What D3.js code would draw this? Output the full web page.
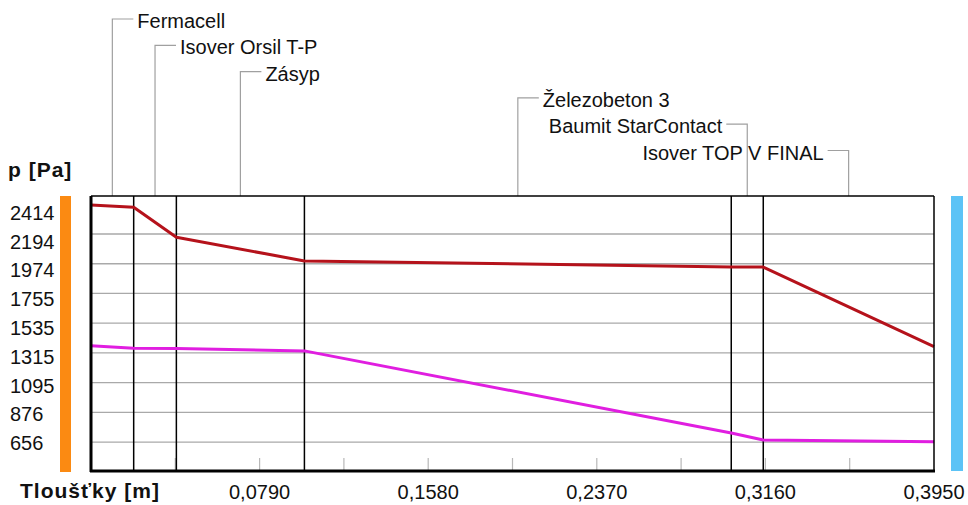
<!DOCTYPE html>
<html><head><meta charset="utf-8">
<script src="https://cdn.jsdelivr.net/npm/d3@7"></script>
<style>
body{margin:0;background:#fff}
svg{display:block}
text{font-family:"Liberation Sans",Arial,sans-serif;fill:#111}
</style>
</head><body>
<svg id="chart" width="968" height="505"></svg>
<script>
// ---- data ----
const layers = ["Fermacell","Isover Orsil T-P","Zásyp","Železobeton 3","Baumit StarContact","Isover TOP V FINAL"];
const thickness = [0.02, 0.02, 0.06, 0.20, 0.015, 0.08];
const pressureRed = [2409, 2392, 2170, 1995, 1951, 1950, 1361];      // at layer boundaries
const pressureMagenta = [1368, 1350, 1348, 1330, 723, 671, 658];   // at layer boundaries
const yTickLabels = [656, 876, 1095, 1315, 1535, 1755, 1974, 2194, 2414];
const xTickLabels = [0.079, 0.158, 0.237, 0.316, 0.395];
const xMinorStep = 0.0395;
const yAxisTitle = "p [Pa]";
const xAxisTitle = "Tloušťky [m]";

// ---- layout ----
const svg = d3.select("#chart");
const L = 91, R = 934, T = 196, B = 471;
const boundaries = [0, ...d3.cumsum(thickness)];
const total = boundaries[boundaries.length - 1];

const x = d3.scaleLinear().domain([0, 0.395]).range([L, R]);
const y = d3.scaleLinear().domain([442, 2475]).range([B, T]);
const yLab = d3.scaleLinear().domain([656, 2414]).range([443, 212.5]);
const row = d3.scalePoint().domain(layers).range([19, 150.5]);

// side bars
svg.append("rect").attr("x", 60).attr("y", T).attr("width", 11).attr("height", B - T + 1).attr("fill", "#fb8a12");
svg.append("rect").attr("x", 951).attr("y", T).attr("width", 12).attr("height", B - T).attr("fill", "#5cc3f6");

// gridlines (no line at the top label)
const gridVals = yTickLabels.filter(v => v < d3.max(yTickLabels));
svg.append("g").selectAll("line").data(gridVals).join("line")
  .attr("x1", L).attr("x2", R).attr("y1", d => y(d)).attr("y2", d => y(d))
  .attr("stroke", "#a9a9a9").attr("stroke-width", 1.3);

// minor ticks on bottom
const minor = d3.range(1, 10).map(i => i * xMinorStep);
svg.append("g").selectAll("line").data(minor).join("line")
  .attr("x1", d => x(d)).attr("x2", d => x(d)).attr("y1", B - 13).attr("y2", B)
  .attr("stroke", "#b8b8b8").attr("stroke-width", 1.2);

// layer boundaries
svg.append("g").selectAll("line").data(boundaries.slice(1, -1)).join("line")
  .attr("x1", d => x(d)).attr("x2", d => x(d)).attr("y1", T).attr("y2", B)
  .attr("stroke", "#000").attr("stroke-width", 1.5);

// connectors and labels
const lab = svg.append("g");
layers.forEach((name, i) => {
  const mx = x(boundaries[i] + thickness[i] / 2);
  const ry = row(name);
  const t = lab.append("text").attr("y", ry).attr("dy", "0.45em")
    .attr("font-size", 20).text(name);
  const w = t.node().getComputedTextLength();
  const right = mx + 25 + w <= R;
  const dir = right ? 1 : -1;
  t.attr("x", mx + dir * 25).attr("text-anchor", right ? "start" : "end");
  lab.append("path")
    .attr("d", `M${mx},${T}V${ry}H${mx + dir * 21}`)
    .attr("fill", "none").attr("stroke", "#a0a0a0").attr("stroke-width", 1.2);
});

// data lines
const line = d3.line().x((d, i) => x(boundaries[i])).y(d => y(d));
svg.append("path").datum(pressureMagenta).attr("d", line)
  .attr("fill", "none").attr("stroke", "#e01ee0").attr("stroke-width", 3).attr("stroke-linejoin", "round");
svg.append("path").datum(pressureRed).attr("d", line)
  .attr("fill", "none").attr("stroke", "#b5121b").attr("stroke-width", 3).attr("stroke-linejoin", "round");

// plot frame
svg.append("line").attr("x1", L).attr("x2", R).attr("y1", T).attr("y2", T).attr("stroke", "#000").attr("stroke-width", 1.5);
svg.append("line").attr("x1", R).attr("x2", R).attr("y1", T).attr("y2", B).attr("stroke", "#000").attr("stroke-width", 1.5);
svg.append("line").attr("x1", L).attr("x2", L).attr("y1", T).attr("y2", B + 1).attr("stroke", "#000").attr("stroke-width", 3);
svg.append("line").attr("x1", L - 1).attr("x2", R + 1).attr("y1", B).attr("y2", B).attr("stroke", "#000").attr("stroke-width", 3);

// y tick labels
svg.append("g").selectAll("text").data(yTickLabels).join("text")
  .attr("x", 10).attr("y", d => yLab(d)).attr("dy", "0.36em")
  .attr("font-size", 20).text(d => d);

// x tick labels
const fmt = d => d3.format(".4f")(d).replace(".", ",");
svg.append("g").selectAll("text").data(xTickLabels).join("text")
  .attr("x", d => x(d)).attr("y", 499).attr("text-anchor", "middle")
  .attr("font-size", 20).text(fmt);

// axis titles
svg.append("text").attr("x", 8).attr("y", 177).attr("font-size", 21)
  .attr("font-weight", "bold").attr("letter-spacing", 1).text(yAxisTitle);
svg.append("text").attr("x", 20).attr("y", 498).attr("font-size", 21)
  .attr("font-weight", "bold").attr("letter-spacing", 1).text(xAxisTitle);
</script>
</body></html>
